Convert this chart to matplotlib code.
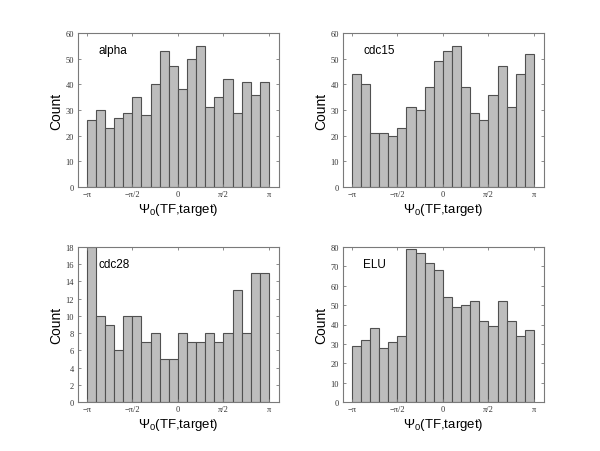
import numpy as np
import matplotlib
matplotlib.use("Agg")
import matplotlib.pyplot as plt

names = ["alpha", "cdc15", "cdc28", "ELU"]
alpha_counts = [26, 30, 23, 27, 29, 35, 28, 40, 53, 47, 38, 50, 55, 31, 35, 42, 29, 41, 36, 41]
cdc15_counts = [44, 40, 21, 21, 20, 23, 31, 30, 39, 49, 53, 55, 39, 29, 26, 36, 47, 31, 44, 52]
cdc28_counts = [18, 10, 9, 6, 10, 10, 7, 8, 5, 5, 8, 7, 7, 8, 7, 8, 13, 8, 15, 15]
elu_counts = [29, 32, 38, 28, 31, 34, 79, 77, 72, 68, 54, 49, 50, 52, 42, 39, 52, 42, 34, 37]
all_counts = [alpha_counts, cdc15_counts, cdc28_counts, elu_counts]
ymaxes = [60, 60, 18, 80]
ysteps = [10, 10, 2, 10]
xtick_vals = [-np.pi, -np.pi / 2, 0, np.pi / 2, np.pi]
xtick_labels = ["\u2212\u03c0", "\u2212\u03c0/2", "0", "\u03c0/2", "\u03c0"]
n_bins = 20

plt.rcParams["mathtext.fontset"] = "custom"
plt.rcParams["mathtext.rm"] = "Liberation Sans"
plt.rcParams["mathtext.it"] = "Liberation Sans"

W, H = 600, 452
fig = plt.figure(figsize=(6, 4.52), dpi=100)

# axes positions in pixels (left, top, right, bottom)
boxes = [(77.5, 34, 278.5, 188), (342.5, 34, 543.5, 188),
         (77.5, 248, 278.5, 403), (342.5, 248, 543.5, 403)]

edges = np.linspace(-np.pi, np.pi, n_bins + 1)
width = edges[1] - edges[0]
axis_col = "#7a7a7a"

for i, (name, counts) in enumerate(zip(names, all_counts)):
    l, t, r, b = boxes[i]
    ax = fig.add_axes([l / W, 1 - b / H, (r - l) / W, (b - t) / H])
    ax.bar(edges[:-1], counts, width=width, align="edge",
           color="#bdbdbd", edgecolor="#505050", linewidth=0.8)
    ax.set_xlim(-3.46, 3.47)
    ax.set_ylim(0, ymaxes[i])
    ax.set_yticks(np.arange(0, ymaxes[i] + 0.1, ysteps[i]))
    ax.set_xticks(xtick_vals)
    ax.set_xticklabels(xtick_labels)
    for lab in ax.get_xticklabels() + ax.get_yticklabels():
        lab.set_family("Liberation Serif")
        lab.set_fontsize(6)
        lab.set_color("#333333")
    ax.tick_params(direction="in", length=2.5, width=0.6, color=axis_col,
                   top=True, right=True, pad=2.5)
    for sp in ax.spines.values():
        sp.set_color(axis_col)
        sp.set_linewidth(0.8)
    ax.set_ylabel("Count", family="Liberation Sans", fontsize=10, labelpad=2)
    ax.set_xlabel("\u03a8$_0$(TF,target)", family="Liberation Sans", fontsize=9.5, labelpad=1.5)
    ax.text(0.103, 0.89, name, transform=ax.transAxes, ha="left", va="center",
            family="Liberation Sans", fontsize=8.5)

fig.savefig("out.png", dpi=100, facecolor="white")
